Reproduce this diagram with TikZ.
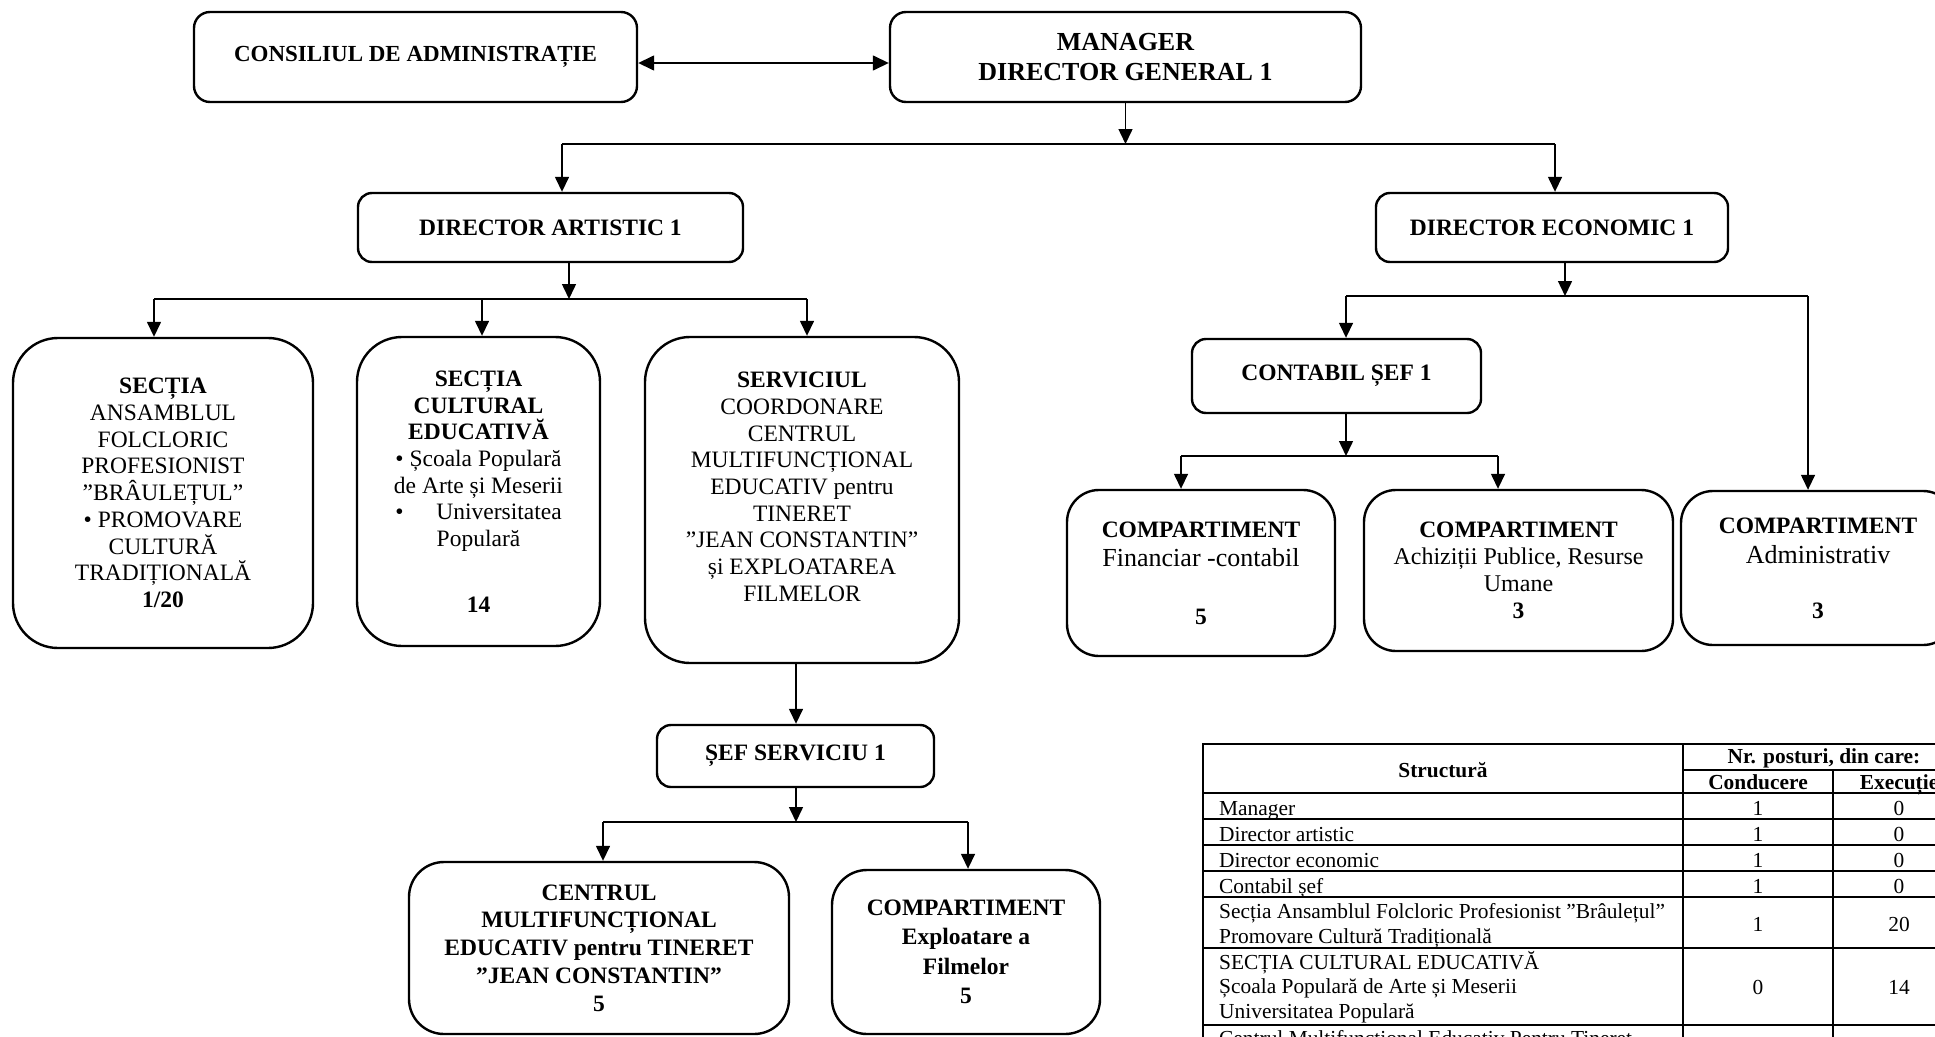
\documentclass[tikz,border=0pt]{standalone}
\usepackage{fontspec}
\setmainfont{Liberation Serif}
\usetikzlibrary{arrows.meta}
\newcommand\fbody{\fontsize{23.5}{26.7}\selectfont}
\newcommand\fmgr{\fontsize{26}{30}\selectfont}
\newcommand\ftab{\fontsize{21.4}{25.2}\selectfont}
\tikzset{
  box/.style={draw, line width=2.4pt, rounded corners=#1, align=center, inner sep=0pt, font=\fbody},
  conn/.style={line width=1.5pt},
  arr/.style={line width=1.5pt, -{Triangle[length=15pt,width=14pt]}},
  darr/.style={line width=1.5pt, {Triangle[length=16pt,width=15pt]}-{Triangle[length=16pt,width=15pt]}},
  tline/.style={line width=1.6pt},
  ttxt/.style={inner sep=0pt, font=\ftab, anchor=base west},
  tnum/.style={inner sep=0pt, font=\ftab, anchor=base},
}
\begin{document}
\begin{tikzpicture}[x=1pt,y=-1pt]
\path[use as bounding box] (0,0) rectangle (1935,1036);
\clip (0,0) rectangle (1935,1036);

% top level
\node[box=16pt, minimum width=443pt, minimum height=90pt, font=\fontsize{23}{27}\selectfont\bfseries] (cons) at (415.5,57) {CONSILIUL DE ADMINISTRAȚIE};
\node[box=16pt, minimum width=471pt, minimum height=90pt, font=\fmgr\bfseries] (mgr) at (1125.5,57) {MANAGER\\DIRECTOR GENERAL 1};
\draw[darr] ([yshift=-6pt]cons.east) -- ([yshift=-6pt]mgr.west);

\node[box=14pt, minimum width=385pt, minimum height=69pt, font=\fbody\bfseries] (dart) at (550.5,227.5) {DIRECTOR ARTISTIC 1};
\node[box=14pt, minimum width=352pt, minimum height=69pt, font=\fbody\bfseries] (deco) at (1552,227.5) {DIRECTOR ECONOMIC 1};

\coordinate (mj) at (1125.5,144);
\coordinate (mjL) at (562,144);
\coordinate (mjR) at (1555,144);
\draw[arr] (mgr.south) -- (mj);
\draw[conn] (mjL) -- (mjR);
\draw[arr] (mjL) -- (mjL |- dart.north);
\draw[arr] (mjR) -- (mjR |- deco.north);

% artistic branch
\node[box=45pt, minimum width=300pt, minimum height=310pt] (s1) at (163,493)
 {\textbf{SECȚIA}\\ANSAMBLUL\\FOLCLORIC\\PROFESIONIST\\”BRÂULEȚUL”\\• PROMOVARE\\CULTURĂ\\TRADIȚIONALĂ\\\textbf{1/20}};
\node[box=45pt, minimum width=243pt, minimum height=309pt] (s2) at (478.5,491.5)
 {\textbf{SECȚIA}\\\textbf{CULTURAL}\\\textbf{EDUCATIVĂ}\\• Școala Populară\\de Arte și Meserii\\•\hspace{1.4em}Universitatea\\Populară\\[39pt]\textbf{14}};
\node[box=45pt, minimum width=314pt, minimum height=326pt] (s3) at (802,500)
 {\textbf{SERVICIUL}\\COORDONARE\\CENTRUL\\MULTIFUNCȚIONAL\\EDUCATIV pentru\\TINERET\\”JEAN CONSTANTIN”\\și EXPLOATAREA\\FILMELOR\\\mbox{}};

\coordinate (aj) at (569,299);
\coordinate (ajL) at (154,299);
\coordinate (ajM) at (482,299);
\coordinate (ajR) at (807,299);
\draw[arr] (aj |- dart.south) -- (aj);
\draw[conn] (ajL) -- (ajR);
\draw[arr] (ajL) -- (ajL |- s1.north);
\draw[arr] (ajM) -- (ajM |- s2.north);
\draw[arr] (ajR) -- (ajR |- s3.north);

\node[box=14pt, minimum width=277pt, minimum height=62pt, font=\fbody\bfseries] (sef) at (795.5,756) {ȘEF SERVICIU 1};
\coordinate (sx) at (796,700);
\draw[arr] (sx |- s3.south) -- (sx |- sef.north);

\node[box=35pt, minimum width=380pt, minimum height=172pt, font=\fontsize{23.5}{27.7}\selectfont\bfseries] (cmf) at (599,948)
 {CENTRUL\\MULTIFUNCȚIONAL\\EDUCATIV pentru TINERET\\”JEAN CONSTANTIN”\\5};
\node[box=35pt, minimum width=268pt, minimum height=164pt, font=\fontsize{23.5}{29.5}\selectfont\bfseries] (cef) at (966,952)
 {COMPARTIMENT\\Exploatare a\\Filmelor\\5};

\coordinate (sj) at (796,822);
\coordinate (sjL) at (603,822);
\coordinate (sjR) at (968,822);
\draw[arr] (sx |- sef.south) -- (sj);
\draw[conn] (sjL) -- (sjR);
\draw[arr] (sjL) -- (sjL |- cmf.north);
\draw[arr] (sjR) -- (sjR |- cef.north);

% economic branch
\node[box=14pt, minimum width=289pt, minimum height=74pt, font=\fbody\bfseries] (cont) at (1336.5,376) {CONTABIL ȘEF 1};
\node[box=32pt, minimum width=268pt, minimum height=166pt, font=\fontsize{26}{29}\selectfont] (c1) at (1201,573)
 {\textbf{\fbody COMPARTIMENT}\\Financiar -contabil\\[29pt]\textbf{\fbody 5}};
\node[box=32pt, minimum width=309pt, minimum height=161pt, font=\fontsize{24}{27}\selectfont] (c2) at (1518.5,570.5)
 {\textbf{\fbody COMPARTIMENT}\\Achiziții Publice, Resurse\\Umane\\\textbf{\fbody 3}};
\node[box=32pt, minimum width=274pt, minimum height=154pt, font=\fontsize{26}{30}\selectfont] (c3) at (1818,568)
 {\textbf{\fbody COMPARTIMENT}\\Administrativ\\[25pt]\textbf{\fbody 3}};

\coordinate (ej) at (1565,296);
\coordinate (ejL) at (1346,296);
\coordinate (ejR) at (1808,296);
\draw[arr] (ej |- deco.south) -- (ej);
\draw[conn] (ejL) -- (ejR);
\draw[arr] (ejL) -- (ejL |- cont.north);
\draw[arr] (ejR) -- (ejR |- c3.north);

\coordinate (kj) at (1346,456);
\coordinate (kjL) at (1181,456);
\coordinate (kjR) at (1498,456);
\draw[arr] (kj |- cont.south) -- (kj);
\draw[conn] (kjL) -- (kjR);
\draw[arr] (kjL) -- (kjL |- c1.north);
\draw[arr] (kjR) -- (kjR |- c2.north);

% table
\draw[tline] (1203,744) rectangle (1975,1060);
\draw[tline] (1683,770) -- (1975,770);
\foreach \yy in {793,819,845,871,897,948,1025} \draw[tline] (1203,\yy) -- (1975,\yy);
\draw[tline] (1683,744) -- (1683,1060);
\draw[tline] (1833,770) -- (1833,1060);

\node[tnum, font=\ftab\bfseries] (hs) at (1443,777) {Structură};
\node[tnum, font=\ftab\bfseries] (hn) at (1824,763) {Nr. posturi, din care:};
\node[tnum, font=\ftab\bfseries] (hc) at (1758,789) {Conducere};
\node[tnum, font=\ftab\bfseries] (he) at (1899,789) {Execuție};

\node[ttxt] (r1) at (1219,815) {Manager};
\node[ttxt] (r2) at (1219,841) {Director artistic};
\node[ttxt] (r3) at (1219,867) {Director economic};
\node[ttxt] (r4) at (1219,893) {Contabil șef};
\node[ttxt] (r5) at (1219,918) {Secția Ansamblul Folcloric Profesionist ”Brâulețul”};
\node[ttxt] (r5b) at (1219,943) {Promovare Cultură Tradițională};
\node[ttxt] (r6) at (1219,969) {SECȚIA CULTURAL EDUCATIVĂ};
\node[ttxt] (r6b) at (1219,993) {Școala Populară de Arte și Meserii};
\node[ttxt] (r6c) at (1219,1018) {Universitatea Populară};
\node[ttxt] (r7) at (1219,1045) {Centrul Multifuncțional Educativ Pentru Tineret};

\node[tnum] (v1c) at (1758,815) {1};
\node[tnum] (v1e) at (1899,815) {0};
\node[tnum] (v2c) at (1758,841) {1};
\node[tnum] (v2e) at (1899,841) {0};
\node[tnum] (v3c) at (1758,867) {1};
\node[tnum] (v3e) at (1899,867) {0};
\node[tnum] (v4c) at (1758,893) {1};
\node[tnum] (v4e) at (1899,893) {0};
\node[tnum] (v5c) at (1758,931) {1};
\node[tnum] (v5e) at (1899,931) {20};
\node[tnum] (v6c) at (1758,994) {0};
\node[tnum] (v6e) at (1899,994) {14};
\end{tikzpicture}
\end{document}
